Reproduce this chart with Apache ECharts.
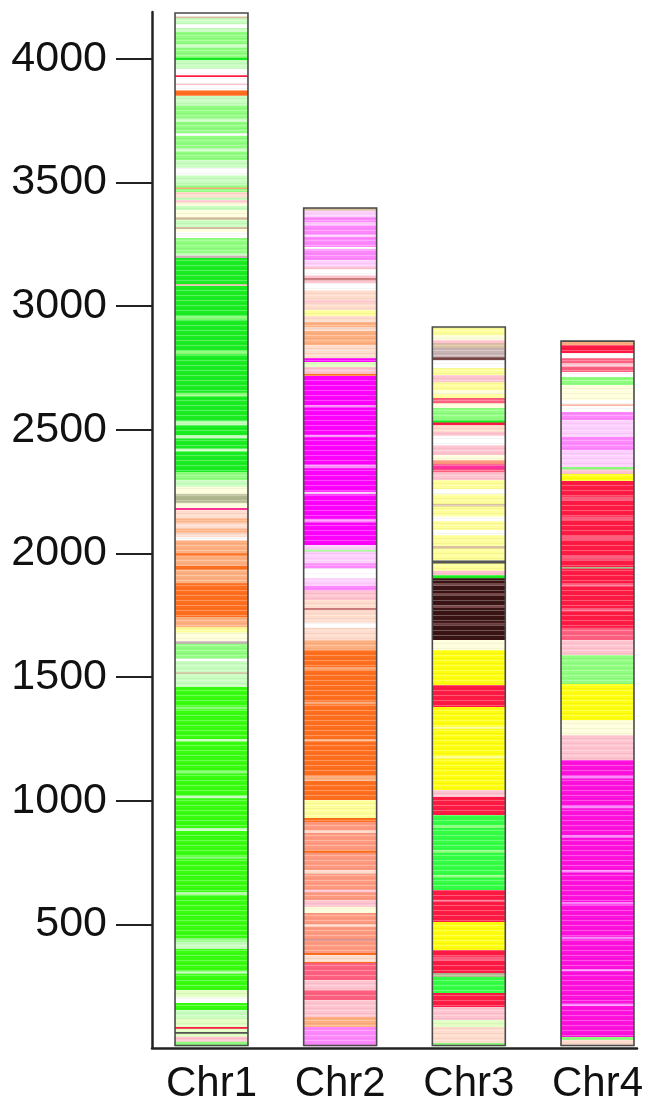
<!DOCTYPE html>
<html><head><meta charset="utf-8">
<script src="https://cdn.jsdelivr.net/npm/echarts@6/dist/echarts.min.js"></script>
<style>html,body{margin:0;padding:0;background:#fff}#c{width:658px;height:1112px}</style>
</head><body><div id="c"></div>
<script>
const categories = ['Chr1', 'Chr2', 'Chr3', 'Chr4'];
const chrLengths = [4186, 3397, 2916, 2859];
const chrStart = 10;
const yTicks = [500, 1000, 1500, 2000, 2500, 3000, 3500, 4000];

const palette = {
  W:'#ffffff', w:'#ffffdd', y:'#ffff99', Y:'#ffff10', q:'#e0ffc0', l:'#c8ffc0',
  g:'#90ff80', G:'#1aee22', H:'#38ff10', E:'#33ff44', O:'#ff6f1e', o:'#ffb080',
  p:'#ffdccc', S:'#ff9a80', t:'#d8c0a0', k:'#ffc4d0', r:'#ff6080', R:'#ff1a44',
  P:'#ff3399', M:'#ff00ff', m:'#ff88ff', n:'#ffd0ff', F:'#ff10dd', D:'#3a1414',
  b:'#7a4848', d:'#c8b4b4', u:'#d08080', v:'#b0b890', x:'#555555'
};

// [upper, lower, colour key]
const chr1Bands = [
  [4186,4172,'W'],[4172,4165,'t'],[4165,4140,'l'],[4140,4125,'W'],[4125,4109,'l'],
  [4109,4060,'g'],[4060,4045,'l'],[4045,4005,'g'],[4005,3995,'G'],[3995,3960,'l'],
  [3960,3935,'W'],[3935,3927,'R'],[3927,3900,'W'],[3900,3894,'k'],[3894,3874,'W'],
  [3874,3850,'O'],[3850,3813,'l'],[3813,3760,'g'],[3760,3745,'l'],[3745,3700,'g'],
  [3700,3690,'W'],[3690,3640,'g'],[3640,3625,'l'],[3625,3591,'g'],[3591,3560,'l'],
  [3560,3530,'W'],[3530,3490,'l'],[3490,3480,'g'],[3480,3474,'o'],[3474,3462,'g'],
  [3462,3440,'p'],[3440,3430,'l'],[3430,3420,'k'],[3420,3405,'w'],[3405,3389,'l'],
  [3389,3360,'w'],[3360,3350,'t'],[3350,3320,'l'],[3320,3312,'t'],[3312,3300,'w'],
  [3300,3276,'W'],[3276,3215,'g'],[3215,3205,'l'],[3205,3195,'d'],[3195,3090,'G'],
  [3090,3082,'t'],[3082,2960,'G'],[2960,2945,'g'],[2945,2820,'G'],[2820,2805,'g'],
  [2805,2650,'G'],[2650,2635,'g'],[2635,2535,'G'],[2535,2520,'l'],[2520,2478,'G'],
  [2478,2465,'l'],[2465,2425,'G'],[2425,2412,'l'],[2412,2330,'G'],[2330,2297,'g'],
  [2297,2270,'l'],[2270,2240,'w'],[2240,2205,'v'],[2205,2184,'w'],[2184,2176,'P'],
  [2176,2140,'p'],[2140,2125,'o'],[2125,2100,'p'],[2100,2085,'o'],[2085,2066,'p'],
  [2066,2054,'W'],[2054,2000,'o'],[2000,1990,'O'],[1990,1950,'o'],[1950,1935,'O'],
  [1935,1880,'o'],[1880,1743,'O'],[1743,1702,'o'],[1702,1680,'y'],[1680,1645,'w'],
  [1645,1635,'d'],[1635,1575,'g'],[1575,1565,'W'],[1565,1520,'l'],[1520,1514,'t'],
  [1514,1460,'l'],[1460,1380,'H'],[1380,1370,'g'],[1370,1250,'H'],[1250,1240,'l'],
  [1240,1120,'H'],[1120,1110,'g'],[1110,1020,'H'],[1020,1010,'l'],[1010,890,'H'],
  [890,878,'l'],[878,775,'H'],[775,765,'g'],[765,630,'H'],[630,620,'l'],
  [620,445,'H'],[445,430,'g'],[430,400,'l'],[400,310,'H'],[310,300,'l'],
  [300,235,'H'],[235,205,'q'],[205,182,'W'],[182,154,'H'],[154,120,'l'],
  [120,85,'q'],[85,78,'R'],[78,65,'q'],[65,58,'x'],[58,45,'q'],[45,25,'k'],[25,10,'g']
];
const chr2Bands = [
  [3397,3385,'t'],[3385,3360,'n'],[3360,3340,'m'],[3340,3328,'n'],[3328,3290,'m'],
  [3290,3280,'n'],[3280,3240,'m'],[3240,3230,'W'],[3230,3187,'m'],[3187,3160,'n'],
  [3160,3150,'k'],[3150,3125,'W'],[3125,3114,'k'],[3114,3104,'u'],[3104,3094,'k'],
  [3094,3065,'W'],[3065,3025,'p'],[3025,3015,'k'],[3015,2985,'p'],[2985,2960,'y'],
  [2960,2935,'p'],[2935,2915,'o'],[2915,2900,'p'],[2900,2843,'o'],[2843,2823,'p'],
  [2823,2790,'p'],[2790,2774,'M'],[2774,2754,'q'],[2754,2726,'k'],[2726,2718,'O'],
  [2718,2600,'M'],[2600,2590,'m'],[2590,2480,'M'],[2480,2470,'m'],[2470,2360,'M'],
  [2360,2345,'m'],[2345,2250,'M'],[2250,2240,'n'],[2240,2140,'M'],[2140,2125,'m'],
  [2125,2034,'M'],[2034,2015,'n'],[2015,2008,'g'],[2008,1960,'n'],[1960,1940,'m'],
  [1940,1900,'W'],[1900,1870,'n'],[1870,1850,'m'],[1850,1812,'k'],[1812,1780,'p'],
  [1780,1770,'u'],[1770,1720,'p'],[1720,1700,'W'],[1700,1650,'p'],[1650,1610,'o'],
  [1610,1540,'O'],[1540,1530,'o'],[1530,1400,'O'],[1400,1390,'o'],[1390,1250,'O'],
  [1250,1240,'o'],[1240,1100,'O'],[1100,1080,'o'],[1080,1003,'O'],[1003,930,'y'],
  [930,914,'O'],[914,880,'S'],[880,870,'p'],[870,800,'S'],[800,790,'O'],
  [790,720,'S'],[720,705,'p'],[705,640,'S'],[640,630,'k'],[630,599,'S'],
  [599,570,'k'],[570,546,'w'],[546,500,'S'],[500,490,'p'],[490,440,'S'],
  [440,433,'u'],[433,384,'S'],[384,376,'O'],[376,348,'p'],[348,344,'O'],
  [344,275,'r'],[275,235,'k'],[235,194,'r'],[194,125,'k'],[125,85,'o'],[85,10,'m']
];
const chr3Bands = [
  [2916,2883,'y'],[2883,2863,'w'],[2863,2850,'k'],[2850,2831,'t'],[2831,2794,'d'],
  [2794,2782,'b'],[2782,2750,'W'],[2750,2722,'y'],[2722,2693,'k'],[2693,2660,'y'],
  [2660,2645,'w'],[2645,2629,'y'],[2629,2608,'r'],[2608,2588,'w'],[2588,2540,'g'],
  [2540,2530,'G'],[2530,2519,'R'],[2519,2491,'p'],[2491,2475,'k'],[2475,2438,'W'],
  [2438,2398,'k'],[2398,2378,'w'],[2378,2360,'S'],[2360,2340,'P'],[2340,2329,'r'],
  [2329,2297,'k'],[2297,2260,'y'],[2260,2240,'W'],[2240,2200,'y'],[2200,2190,'t'],
  [2190,2150,'y'],[2150,2130,'W'],[2130,2095,'y'],[2095,2075,'W'],[2075,2030,'y'],
  [2030,2020,'t'],[2020,1973,'y'],[1973,1960,'x'],[1960,1930,'y'],[1930,1913,'k'],
  [1913,1900,'G'],[1900,1880,'D'],[1880,1872,'b'],[1872,1840,'D'],[1840,1832,'b'],
  [1832,1790,'D'],[1790,1780,'b'],[1780,1720,'D'],[1720,1712,'b'],[1712,1650,'D'],
  [1650,1610,'w'],[1610,1468,'Y'],[1468,1379,'R'],[1379,1300,'Y'],[1300,1290,'y'],
  [1290,1180,'Y'],[1180,1170,'y'],[1170,1043,'Y'],[1043,1015,'k'],[1015,942,'R'],
  [942,900,'E'],[900,890,'g'],[890,800,'E'],[800,790,'g'],[790,700,'E'],
  [700,690,'g'],[690,639,'E'],[639,600,'R'],[600,590,'r'],[590,510,'R'],
  [510,396,'Y'],[396,370,'R'],[370,355,'r'],[355,303,'R'],[303,287,'v'],
  [287,222,'E'],[222,166,'R'],[166,113,'k'],[113,85,'q'],[85,20,'p'],[20,10,'g']
];
const chr4Bands = [
  [2859,2843,'o'],[2843,2811,'R'],[2811,2790,'W'],[2790,2770,'r'],[2770,2755,'k'],
  [2755,2734,'r'],[2734,2714,'W'],[2714,2681,'g'],[2681,2620,'w'],[2620,2603,'W'],
  [2603,2597,'S'],[2597,2572,'W'],[2572,2540,'m'],[2540,2471,'n'],[2471,2418,'m'],
  [2418,2378,'n'],[2378,2350,'n'],[2350,2340,'g'],[2340,2321,'k'],[2321,2293,'Y'],
  [2293,2230,'R'],[2230,2215,'r'],[2215,2150,'R'],[2150,2135,'r'],[2135,2070,'R'],
  [2070,2055,'r'],[2055,1990,'R'],[1990,1975,'r'],[1975,1945,'R'],[1945,1938,'v'],
  [1938,1880,'R'],[1880,1865,'r'],[1865,1780,'R'],[1780,1765,'r'],[1765,1700,'R'],
  [1700,1650,'r'],[1650,1589,'k'],[1589,1472,'g'],[1472,1326,'Y'],[1326,1266,'w'],
  [1266,1165,'k'],[1165,1100,'F'],[1100,1090,'m'],[1090,980,'F'],[980,970,'m'],
  [970,860,'F'],[860,850,'m'],[850,720,'F'],[720,710,'m'],[710,590,'F'],
  [590,580,'m'],[580,450,'F'],[450,440,'m'],[440,320,'F'],[320,310,'m'],
  [310,180,'F'],[180,170,'m'],[170,44,'F'],[44,32,'g'],[32,10,'p']
];
const allBands = [chr1Bands, chr2Bands, chr3Bands, chr4Bands];

const stripeData = [];
allBands.forEach((bands, i) => {
  bands.forEach(b => {
    stripeData.push({ value: [i + 1, b[1], b[0]], itemStyle: { color: palette[b[2]] } });
  });
});
const outlineData = chrLengths.map((len, i) => [i + 1, chrStart, len]);

// fine horizontal hatch texture (style only)
const hatch = document.createElement('canvas');
hatch.width = 4; hatch.height = 5;
(function () {
  const c = hatch.getContext('2d');
  c.fillStyle = 'rgba(255,255,255,0.28)';
  c.fillRect(0, 0, 4, 1);
  c.fillStyle = 'rgba(0,0,0,0.04)';
  c.fillRect(0, 3, 4, 1);
})();

const BAR_W = 0.567; // in x-axis units
const font = "'Liberation Sans', Arial, Helvetica, sans-serif";

const chart = echarts.init(document.getElementById('c'), null, { renderer: 'canvas' });
chart.setOption({
  animation: false,
  backgroundColor: '#ffffff',
  grid: { left: 152, right: 21, top: 12, bottom: 64 },
  xAxis: {
    type: 'value', min: 0.5376, max: 4.307,
    splitLine: { show: false },
    axisLine: { show: true, lineStyle: { color: '#222', width: 2.5 } },
    axisTick: { show: false },
    axisLabel: {
      customValues: [1, 2, 3, 4],
      formatter: v => categories[Math.round(v) - 1],
      fontSize: 42, color: '#111', fontFamily: font, margin: 15
    }
  },
  yAxis: {
    type: 'value', min: 0, max: 4190,
    splitLine: { show: false },
    axisLine: { show: true, lineStyle: { color: '#222', width: 2.5 } },
    axisTick: { show: true, customValues: yTicks, length: 36, lineStyle: { color: '#222', width: 2 } },
    axisLabel: {
      customValues: yTicks, formatter: v => String(v),
      fontSize: 43, color: '#111', fontFamily: font, margin: 45
    }
  },
  series: [
    {
      type: 'custom',
      data: stripeData,
      renderItem: (params, api) => {
        const x = api.value(0);
        const top = api.coord([x, api.value(2)]);
        const bot = api.coord([x, api.value(1)]);
        const w = api.size([BAR_W, 0])[0];
        return {
          type: 'rect',
          shape: { x: top[0] - w / 2, y: top[1], width: w, height: bot[1] - top[1] + 0.6 },
          style: { fill: api.visual('color') }
        };
      }
    },
    {
      type: 'custom',
      data: outlineData,
      z: 3,
      renderItem: (params, api) => {
        const x = api.value(0);
        const top = api.coord([x, api.value(2)]);
        const bot = api.coord([x, api.value(1)]);
        const w = api.size([BAR_W, 0])[0];
        return {
          type: 'rect',
          shape: { x: top[0] - w / 2, y: top[1], width: w, height: bot[1] - top[1] },
          style: { fill: { image: hatch, repeat: 'repeat' }, stroke: '#4a4a4a', lineWidth: 1.6 }
        };
      }
    }
  ]
});
</script></body></html>
